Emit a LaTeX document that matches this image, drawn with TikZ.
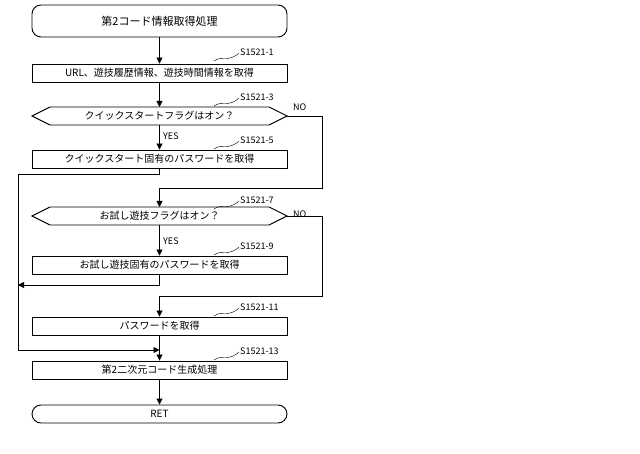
\documentclass[tikz,border=0pt]{standalone}
\usepackage{fontspec}
\setmainfont{Noto Sans CJK JP}
\usetikzlibrary{arrows.meta}
\begin{document}
\begin{tikzpicture}[x=1pt,y=-1pt,
  every node/.style={font=\fontsize{10}{11}\selectfont},
  proc/.style={draw,line width=0.9pt,minimum width=255pt,minimum height=18pt,inner sep=0pt},
  term/.style={draw,line width=0.9pt,minimum width=255pt,rounded corners=9pt,inner sep=0pt},
  lbl/.style={anchor=west,inner sep=0pt,font=\fontsize{9}{10}\selectfont},
  ln/.style={line width=0.9pt},
  arr/.style={line width=0.9pt,-{Triangle[length=6pt,width=6pt]}},
  lead/.style={line width=0.4pt}]
\useasboundingbox (0,0) rectangle (640,454);
\node[term,minimum height=32pt,font=\fontsize{11}{12}\selectfont] (start) at (159.5,21) {第2コード情報取得処理};
\node[proc] (b1) at (159.5,73) {URL、遊技履歴情報、遊技時間情報を取得};
\draw[ln] (32,116) coordinate (d1l) -- (50,107) -- (269,107) -- (287,116) coordinate (d1r) -- (269,125) -- (50,125) -- cycle;
\node (d1) at (159.5,116) {クイックスタートフラグはオン？};
\coordinate (d1t) at (159.5,107); \coordinate (d1b) at (159.5,125);
\node[proc] (b5) at (159.5,159) {クイックスタート固有のパスワードを取得};
\draw[ln] (32,216) coordinate (d2l) -- (50,207) -- (269,207) -- (287,216) coordinate (d2r) -- (269,225) -- (50,225) -- cycle;
\node (d2) at (159.5,216) {お試し遊技フラグはオン？};
\coordinate (d2t) at (159.5,207); \coordinate (d2b) at (159.5,225);
\node[proc] (b9) at (159.5,265) {お試し遊技固有のパスワードを取得};
\node[proc] (b11) at (159.5,326) {パスワードを取得};
\node[proc] (b13) at (159.5,370) {第2二次元コード生成処理};
\node[term,minimum height=18pt] (ret) at (159.5,414) {RET};
% arrows
\draw[arr] (start) -- (b1);
\draw[arr] (b1) -- (d1t);
\draw[arr] (d1b) -- (b5);
\draw[arr] (d1r) -- (322,116) -- (322,188) -- (159.5,188) -- (d2t);
\draw[ln] (b5.south) -- (159.5,174) -- (18,174) -- (18,350) coordinate (lj);
\draw[arr] (lj) -- (159.5,350);
\draw[arr] (d2b) -- (b9);
\draw[arr] (b9.south) -- (159.5,285) -- (18,285);
\draw[arr] (d2r) -- (322,216) -- (322,296) -- (159.5,296) -- (b11);
\draw[arr] (b11) -- (b13);
\draw[arr] (b13) -- (ret);
% labels
\node[lbl] (y1) at (163,136) {YES};
\node[lbl] (y2) at (163,241) {YES};
\node[lbl] (n1) at (293,107) {NO};
\node[lbl] (n2) at (293,214) {NO};
\foreach \yy/\t in {52/S1521-1,97/S1521-3,140/S1521-5,200/S1521-7,246/S1521-9,307/S1521-11,351/S1521-13}{
  \node[lbl] at (240,\yy) {\t};
  \draw[lead] (214,\yy+9) .. controls (222,\yy+3) and (228,\yy+11) .. (239,\yy+1);
}
\end{tikzpicture}
\end{document}
